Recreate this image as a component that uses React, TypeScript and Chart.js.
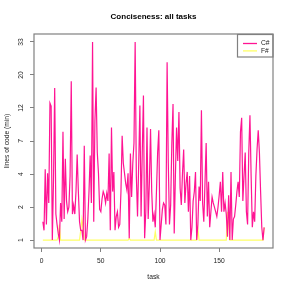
import React, { useEffect, useRef } from "react";
import { Chart, registerables } from "chart.js";

Chart.register(...registerables);

const csharp: number[] = [
  1.6, 1.3, 4.5, 1.5, 4.2, 2.4, 13.2, 12.6, 1, 3.7,
  16.6, 1.9, 1.5, 1.2, 1, 2.4, 1.6, 8.4, 1.7, 5.4,
  2.5, 2.0, 2.2, 4, 18.4, 1.9, 2.3, 1.9, 3, 5.8,
  3, 1.6, 1.3, 1.3, 1, 6.7, 1, 1.1, 1.7, 3,
  5.7, 2.4, 33, 1.6, 10, 16.7, 6, 4.2, 2.1, 2.0,
  2.6, 3.0, 2.8, 2.4, 2.9, 2.5, 5.9, 1.3, 9, 3,
  4.3, 1.3, 1.8, 2.0, 1.4, 1.5, 3, 7.9, 5, 4.2,
  3.5, 3.1, 4.2, 1.05, 5.9, 2.7, 5, 7, 33, 4,
  1.8, 5, 12.7, 1.8, 6, 14.8, 1.05, 2, 9, 1.7,
  3.5, 8.8, 3, 1.6, 1.9, 1.4, 3, 6, 8.6, 1,
  1.5, 2.1, 2.4, 2.3, 1.5, 24.4, 5, 1.5, 2.3, 7,
  13, 1.2, 4, 9, 5.2, 11.5, 3.2, 2.3, 4.2, 6.3,
  2.4, 3.5, 4.3, 2, 4, 1, 1.4, 2.5, 3, 4.3,
  1, 1.5, 3.3, 2.5, 11.8, 2.4, 1.6, 3.5, 7, 1.8,
  3.6, 1.4, 2, 2.7, 2.4, 2.2, 2.0, 1.8, 2.2, 2.8,
  3.6, 2.0, 4.3, 2.0, 2.4, 1.9, 1.1, 2.8, 1, 4.3,
  1, 1.7, 1.8, 2.3, 3.0, 3.6, 2.7, 8.4, 10.5, 2.5,
  4.0, 6, 2.0, 1.5, 6, 10.9, 4, 1.4, 2, 1.6,
  4, 6.3, 8.6, 6, 3, 1.4, 1, 1.4,
];

const fsharp: number[] = [
  1, 1, 1, 1, 1, 1, 1, 1, 1, 1,
  1, 1, 1, 1.1, 1.5, 1, 1, 1, 1, 1,
  1, 1, 1, 1, 1, 1, 1, 1, 1, 1,
  1, 1, 1.3, 1.7, 1.4, 1, 1, 1, 1, 1,
  1, 1, 1, 1, 1, 1, 1, 1, 1, 1,
  1, 1, 1, 1, 1, 1, 1, 1, 1, 1,
  1, 1, 1, 1, 1, 1, 1, 1, 1, 1,
  1, 1, 1, 1.05, 1, 1, 1, 1, 1, 1,
  1, 1, 1, 1, 1, 1, 1, 1, 1, 1,
  1, 1, 1, 1, 1, 1.25, 1, 1, 1, 1,
  1, 1, 1, 1, 1, 1, 1, 1, 1, 1,
  1, 1, 1, 1, 1, 1, 1, 1, 1, 1,
  1, 1, 1, 1, 1, 1, 1, 1, 1, 1,
  1, 1.36, 1, 1, 1, 1, 1, 1, 1, 1,
  1, 1, 1, 1, 1, 1, 1, 1, 1, 1,
  1, 1, 1, 1, 1, 1, 2.0, 1.5, 1, 1,
  1, 1, 1, 1, 1, 1, 1, 1, 1, 1,
  1, 1, 1, 1, 1, 1, 1, 1, 1, 1,
  1, 1, 1, 1, 1, 1, 1, 1.4,
];

const tasks: number[] = csharp.map((_, i) => i + 1);
const seriesNames = ["C#", "F#"];
const seriesColors = ["#FF1493", "#FFFF66"];
const xTicks = [0, 50, 100, 150];
const yTickLabels = ["1", "2", "4", "7", "12", "20", "33"];

const FONT = "'Liberation Sans', Arial, Helvetica, sans-serif";
const tr = (v: number) => Math.log(v + 1);
const Y_LO = tr(1);
const Y_HI = tr(33);
const Y_PAD = (Y_HI - Y_LO) * 0.04;
const X_PAD = (tasks[tasks.length - 1] - tasks[0]) * 0.04;

const overlay = {
  id: "overlay",
  afterDraw(chart: any) {
    const { ctx, chartArea: a, scales } = chart;
    ctx.save();
    // plot box
    ctx.strokeStyle = "#808080";
    ctx.lineWidth = 1.2;
    ctx.strokeRect(a.left, a.top, a.right - a.left, a.bottom - a.top);
    // rotated y tick labels
    const ys = scales.y;
    ctx.fillStyle = "#222";
    ctx.font = `6.7px ${FONT}`;
    ctx.textAlign = "center";
    ctx.textBaseline = "middle";
    ys.ticks.forEach((t: any, i: number) => {
      const py = ys.getPixelForValue(t.value);
      ctx.save();
      ctx.translate(21.5, py);
      ctx.rotate(-Math.PI / 2);
      ctx.fillText(yTickLabels[i], 0, 0);
      ctx.restore();
    });
    // legend
    const lx = 237.5, ly = a.top + 0.5, lw = a.right - 237.5, lh = 22.5;
    ctx.strokeStyle = "#808080";
    ctx.lineWidth = 1.2;
    ctx.strokeRect(lx, ly, lw, lh);
    chart.data.datasets.forEach((ds: any, i: number) => {
      const yy = ly + 9 + i * 7.4;
      ctx.strokeStyle = ds.borderColor;
      ctx.lineWidth = 1.3;
      ctx.beginPath();
      ctx.moveTo(243, yy);
      ctx.lineTo(257, yy);
      ctx.stroke();
      ctx.fillStyle = "#222";
      ctx.textAlign = "left";
      ctx.fillText(ds.label, 261, yy);
    });
    ctx.restore();
  },
};

export default function App() {
  const ref = useRef<HTMLCanvasElement>(null);
  useEffect(() => {
    if (!ref.current) return;
    const chart = new Chart(ref.current, {
      type: "line",
      data: {
        datasets: [
          {
            label: seriesNames[0],
            data: tasks.map((t, i) => ({ x: t, y: tr(csharp[i]) })),
            borderColor: seriesColors[0],
            borderWidth: 1.2,
            pointRadius: 0,
            tension: 0,
          },
          {
            label: seriesNames[1],
            data: tasks.map((t, i) => ({ x: t, y: tr(fsharp[i]) })),
            borderColor: seriesColors[1],
            borderWidth: 1.2,
            pointRadius: 0,
            tension: 0,
          },
        ],
      },
      options: {
        responsive: false,
        animation: false,
        devicePixelRatio: 1,
        layout: { padding: { right: 18, top: 0, left: 0, bottom: 0 } },
        plugins: {
          legend: { display: false },
          tooltip: { enabled: false },
          title: {
            display: true,
            text: "Conciseness: all tasks",
            fullSize: false,
            color: "#000",
            font: { family: FONT, size: 8, weight: "bold", lineHeight: 1.2 },
            padding: { top: 12, bottom: 12.4 },
          },
        },
        scales: {
          x: {
            type: "linear",
            min: tasks[0] - X_PAD,
            max: tasks[tasks.length - 1] + X_PAD,
            afterBuildTicks: (s: any) => {
              s.ticks = xTicks.map((v) => ({ value: v }));
            },
            afterFit: (s: any) => {
              s.height = 43;
            },
            grid: {
              display: true,
              drawOnChartArea: false,
              drawTicks: true,
              tickLength: 4,
              color: "#808080",
              lineWidth: 1,
            },
            border: { display: false },
            ticks: {
              color: "#222",
              font: { family: FONT, size: 6.7 },
              padding: 5,
              maxRotation: 0,
              autoSkip: false,
            },
            title: {
              display: true,
              text: "task",
              color: "#222",
              font: { family: FONT, size: 6.7, lineHeight: 1.2 },
              padding: { top: 0, bottom: 10 },
            },
          },
          y: {
            type: "linear",
            min: Y_LO - Y_PAD,
            max: Y_HI + Y_PAD,
            afterBuildTicks: (s: any) => {
              s.ticks = yTickLabels.map((_, k) => ({
                value: Y_LO + (k * (Y_HI - Y_LO)) / (yTickLabels.length - 1),
              }));
            },
            afterFit: (s: any) => {
              s.width = 34;
            },
            grid: {
              display: true,
              drawOnChartArea: false,
              drawTicks: true,
              tickLength: 4,
              color: "#808080",
              lineWidth: 1,
            },
            border: { display: false },
            ticks: { display: false },
            title: {
              display: true,
              text: "lines of code (min)",
              color: "#222",
              font: { family: FONT, size: 6.7, lineHeight: 1.2 },
              padding: { top: 3, bottom: 0 },
            },
          },
        },
      } as any,
      plugins: [overlay],
    });
    return () => chart.destroy();
  }, []);
  return (
    <div style={{ position: "absolute", left: 0, top: 0, width: 291, height: 291, background: "#fff" }}>
      <canvas ref={ref} width={291} height={291} style={{ display: "block" }} />
    </div>
  );
}
